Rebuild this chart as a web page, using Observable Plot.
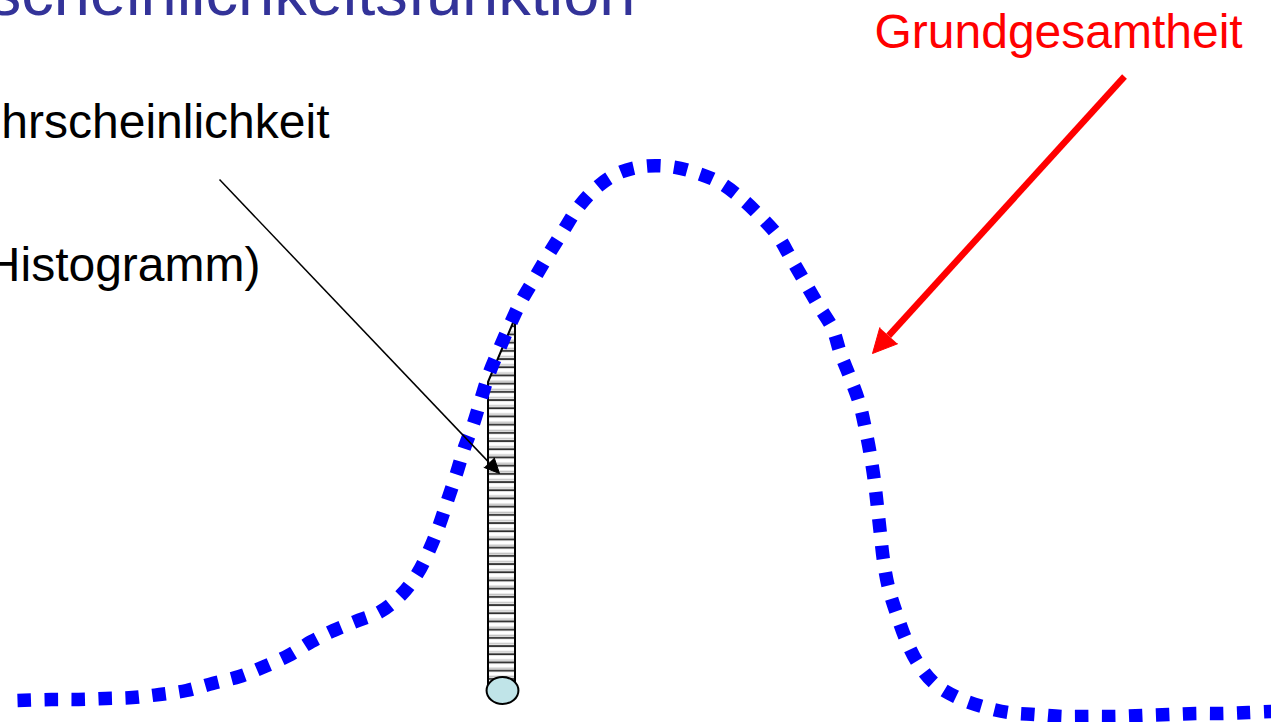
<!DOCTYPE html>
<html><head><meta charset="utf-8">
<script src="https://cdn.jsdelivr.net/npm/d3@7"></script>
<script src="https://cdn.jsdelivr.net/npm/@observablehq/plot@0.6"></script>
<style>html,body{margin:0;padding:0;background:#fff;overflow:hidden}</style>
</head><body><div id="chart"></div>
<script>
// Population curve (Grundgesamtheit), traced points
const curveX = [17,51,78,105,132,159,186,212,239,264,288,311,333,355,380,401,417,429,439,447,456,464,473,481,489,499,510,520,534,548,563,577,595,617,642,669,695,719,741,760,777,790,804,818,832,840,850,859,865,870,874,877,880,883,888,896,905,917,934,957,982,1008,1035,1062,1088,1115,1142,1168,1195,1222,1248,1271];
const curveY = [700,699,699,698,697,694,690,683,676,666,655,641,630,621,611,594,573,549,524,500,473,447,423,397,372,348,323,302,278,254,230,208,188,173,166,166,172,182,198,216,235,257,281,305,328,353,378,403,429,455,481,507,534,560,587,613,638,662,683,697,706,712,714,716,716,716,715,714,713,713,712,711];

// Single histogram bar (sample)
const barX = [488, 515];
const barTop = [382, 318];
const barBase = [690, 690];

// Labels (left group is right-aligned, right group left-aligned)
const leftText = ["scheinlichkeitsfunktion", "hrscheinlichkeit", "Histogramm)"];
const leftX = [635, 329, 260];
const leftY = [14, 137, 280];
const leftColor = ["#333399", "#000000", "#000000"];
const leftSize = [65, 48, 48];
const rightText = ["Grundgesamtheit"];
const rightX = [874];
const rightY = [47];
const rightColor = ["#ff0000"];

// Arrows: start -> tip
const arrowX1 = [219, 1124];
const arrowY1 = [179, 76];
const arrowX2 = [499, 872];
const arrowY2 = [473, 353];
const arrowColor = ["#000000", "#ff0000"];
const arrowWidth = [1.5, 6.5];
const headLen = [15, 24];
const headHalf = [7, 12];

const curve = curveX.map((x, i) => ({x, y: curveY[i]}));
const leftLabels = leftText.map((t, i) => ({t, x: leftX[i], y: leftY[i], c: leftColor[i], s: leftSize[i]}));
const rightLabels = rightText.map((t, i) => ({t, x: rightX[i], y: rightY[i], c: rightColor[i]}));

const shafts = [], heads = [];
arrowX1.forEach((x1, i) => {
  const y1 = arrowY1[i], x2 = arrowX2[i], y2 = arrowY2[i];
  const dx = x2 - x1, dy = y2 - y1, len = Math.hypot(dx, dy);
  const ux = dx / len, uy = dy / len, px = -uy, py = ux;
  const bx = x2 - headLen[i] * ux, by = y2 - headLen[i] * uy;
  shafts.push({x1, y1, x2: bx, y2: by, i});
  heads.push({x: bx + headHalf[i] * px, y: by + headHalf[i] * py, i});
  heads.push({x: x2, y: y2, i});
  heads.push({x: bx - headHalf[i] * px, y: by - headHalf[i] * py, i});
});

const ellipseSymbol = {
  draw(ctx, size) {
    const r = Math.sqrt(size / Math.PI), rx = r * 1.18, ry = r, k = 0.5523;
    ctx.moveTo(rx, 0);
    ctx.bezierCurveTo(rx, ry * k, rx * k, ry, 0, ry);
    ctx.bezierCurveTo(-rx * k, ry, -rx, ry * k, -rx, 0);
    ctx.bezierCurveTo(-rx, -ry * k, -rx * k, -ry, 0, -ry);
    ctx.bezierCurveTo(rx * k, -ry, rx, -ry * k, rx, 0);
    ctx.closePath();
  }
};

const chart = Plot.plot({
  width: 1271, height: 722, margin: 0,
  style: {fontFamily: "'Liberation Sans', Arial, sans-serif", background: "#fff"},
  x: {domain: [0, 1271], range: [0, 1271], axis: null},
  y: {domain: [0, 722], range: [0, 722], axis: null},
  marks: [
    Plot.text(leftLabels.slice(0, 1), {x: "x", y: "y", text: "t", fill: "c", fontSize: 65,
      textAnchor: "end", lineAnchor: "bottom"}),
    Plot.text(leftLabels.slice(1), {x: "x", y: "y", text: "t", fill: "c", fontSize: 48,
      textAnchor: "end", lineAnchor: "bottom"}),
    Plot.text(rightLabels, {x: "x", y: "y", text: "t", fill: "c", fontSize: 48,
      textAnchor: "start", lineAnchor: "bottom"}),
    Plot.areaY({length: 2}, {x: barX, y1: barBase, y2: barTop, curve: "linear",
      fill: "url(#hatch)", stroke: "#000", strokeWidth: 2, strokeLinejoin: "miter"}),
    Plot.dot([0], {x: [(barX[0] + barX[1]) / 2 + 0.5], y: [barBase[0]], r: 13.5, symbol: ellipseSymbol,
      fill: "#c0e4e8", stroke: "#000", strokeWidth: 2}),
    Plot.line(curve, {x: "x", y: "y", curve: "catmull-rom", stroke: "#0000ff", strokeWidth: 13.5,
      strokeDasharray: "13.5,13.5", strokeLinecap: "butt", strokeLinejoin: "miter"}),
    Plot.link(shafts, {x1: "x1", y1: "y1", x2: "x2", y2: "y2", stroke: (d) => arrowColor[d.i],
      strokeWidth: (d) => arrowWidth[d.i], strokeLinecap: "butt"}),
    Plot.line(heads, {x: "x", y: "y", z: "i", fill: (d) => arrowColor[d.i], stroke: (d) => arrowColor[d.i],
      strokeWidth: 1, strokeLinejoin: "miter"})
  ]
});
const ns = "http://www.w3.org/2000/svg";
const defs = document.createElementNS(ns, "defs");
defs.innerHTML = '<pattern id="hatch" patternUnits="userSpaceOnUse" width="40" height="8.2"><rect width="40" height="8.2" fill="#fff"/><rect y="3.3" width="40" height="1.6" fill="#c4c4c4"/><rect y="5.6" width="40" height="1.8" fill="#2a2a2a"/></pattern>';
chart.insertBefore(defs, chart.firstChild);
document.getElementById("chart").appendChild(chart);
</script></body></html>
